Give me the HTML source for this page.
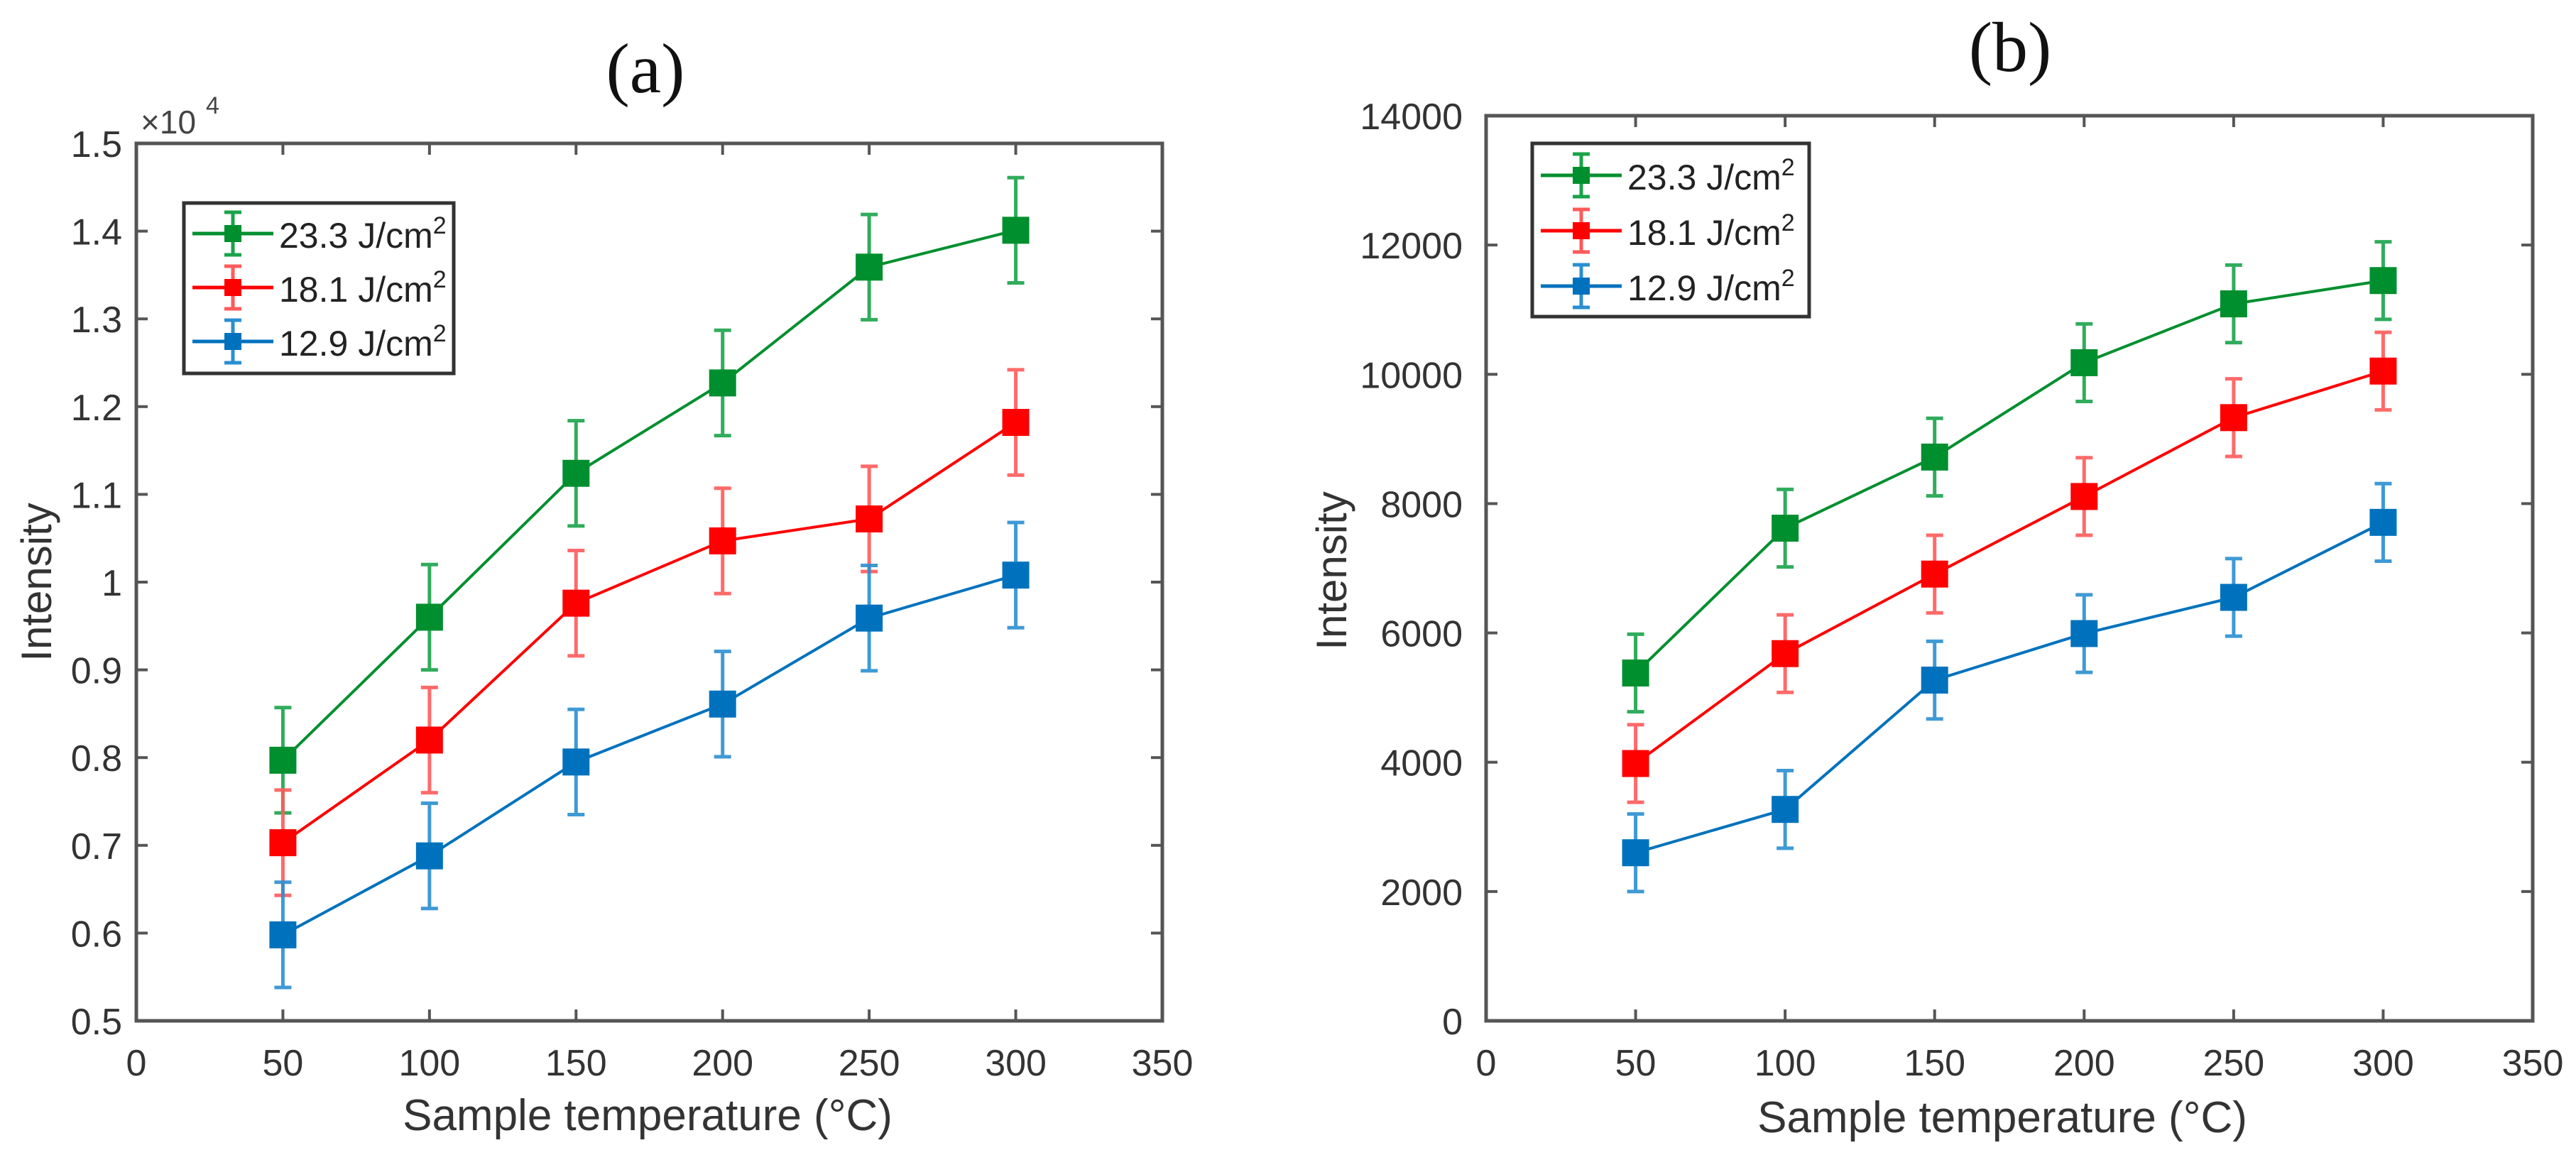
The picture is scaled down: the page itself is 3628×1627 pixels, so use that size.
<!DOCTYPE html>
<html><head><meta charset="utf-8"><style>
html,body{margin:0;padding:0;background:#fff;}
svg{display:block;font-family:"Liberation Sans",sans-serif;}
</style></head><body>
<svg id="fig" width="3628" height="1627" viewBox="0 0 3628 1627" xmlns="http://www.w3.org/2000/svg">
<rect width="3628" height="1627" fill="#fff"/>
</svg>
<script>
const xCats = [50, 100, 150, 200, 250, 300];
const xTicks = [0, 50, 100, 150, 200, 250, 300, 350];
const seriesLabels = ["23.3 J/cm", "18.1 J/cm", "12.9 J/cm"];
const a_green = [0.797, 0.960, 1.124, 1.227, 1.359, 1.401];
const a_red = [0.703, 0.820, 0.976, 1.047, 1.072, 1.182];
const a_blue = [0.598, 0.688, 0.795, 0.861, 0.959, 1.008];
const a_err = [0.06, 0.06, 0.06, 0.06, 0.06, 0.06];
const a_yTicks = [0.5, 0.6, 0.7, 0.8, 0.9, 1, 1.1, 1.2, 1.3, 1.4, 1.5];
const a_yTickLabels = ["0.5","0.6","0.7","0.8","0.9","1","1.1","1.2","1.3","1.4","1.5"];
const b_green = [5380, 7620, 8720, 10180, 11090, 11450];
const b_red = [3980, 5680, 6910, 8110, 9330, 10050];
const b_blue = [2600, 3270, 5270, 5990, 6550, 7710];
const b_err = [600, 600, 600, 600, 600, 600];
const b_yTicks = [0, 2000, 4000, 6000, 8000, 10000, 12000, 14000];
const b_yTickLabels = ["0","2000","4000","6000","8000","10000","12000","14000"];

const NS = "http://www.w3.org/2000/svg";
const svg = document.getElementById('fig');
function mk(tag, attrs, parent, text){
  const e = document.createElementNS(NS, tag);
  for (const k in attrs) e.setAttribute(k, attrs[k]);
  if (text !== undefined) e.textContent = text;
  (parent||svg).appendChild(e);
  return e;
}
const colors = ["#008f2e", "#ff0000", "#0072bd"];
const errColors = ["#1aa34a", "#ff5a5a", "#2a8fd0"];

function panel(cfg){
  const g = mk('g', {});
  
  
  const L=cfg.L, R=cfg.R, T=cfg.T, B=cfg.B;
  const xs = v => L + (v - 0) / 350 * (R - L);
  const ys = v => B - (v - cfg.ymin) / (cfg.ymax - cfg.ymin) * (B - T);
  const t = mk('text', {x: cfg.titleX, y: cfg.titleY, 'font-family': '"Liberation Serif",serif', 'font-size': 100, 'text-anchor': 'middle', fill: '#111'}, g, cfg.title);
  
  
  xTicks.forEach(v => {
    const x = xs(v);
    mk('line', {x1:x, y1:B, x2:x, y2:B-16, stroke:'#555', 'stroke-width':4}, g);
    mk('line', {x1:x, y1:T, x2:x, y2:T+16, stroke:'#555', 'stroke-width':4}, g);
    const tl = mk('text', {x:x, y:1515, 'font-size':52, 'text-anchor':'middle', fill:'#333'}, g, String(v));
    
    
  });
  cfg.yTicks.forEach((v,i) => {
    const y = ys(v);
    mk('line', {x1:L, y1:y, x2:L+16, y2:y, stroke:'#555', 'stroke-width':4}, g);
    mk('line', {x1:R, y1:y, x2:R-16, y2:y, stroke:'#555', 'stroke-width':4}, g);
    const tl = mk('text', {x:cfg.yLabRight, y:y+19, 'font-size':52, 'text-anchor':'end', fill:'#333'}, g, cfg.yTickLabels[i]);
    
    
  });
  const box = mk('rect', {x:L, y:T, width:R-L, height:B-T, fill:'none', stroke:'#555', 'stroke-width':5}, g);
  
  
  const xt = mk('text', {x:cfg.xLabX, y:cfg.xLabY, 'font-size':62, 'text-anchor':'middle', fill:'#333'}, g, 'Sample temperature (°C)');
  
  
  const yt = mk('text', {x:0, y:0, 'font-size':60, 'text-anchor':'middle', fill:'#333', transform:`translate(${cfg.yLabX},${cfg.yLabY}) rotate(-90)`}, g, 'Intensity');
  
  
  if (cfg.exp) {
    const ex = mk('text', {x:198, y:188, 'font-size':46, fill:'#444'}, g, '×10');
    
    
    mk('text', {x:290, y:160, 'font-size':34, fill:'#444'}, g, '4');
  }
  cfg.series.forEach((vals, si) => {
    const sg = mk('g', {}, g);
    
    
    const pts = vals.map((v,i) => xs(xCats[i]) + ',' + ys(v)).join(' ');
    mk('polyline', {points:pts, fill:'none', stroke:colors[si], 'stroke-width':4}, sg);
    vals.forEach((v,i) => {
      const x = xs(xCats[i]), e = cfg.err[i];
      const y1 = ys(v + e), y2 = ys(v - e);
      const eb = mk('path', {d:`M${x},${y1}V${y2}M${x-12},${y1}H${x+12}M${x-12},${y2}H${x+12}`, stroke:errColors[si], 'stroke-width':5, fill:'none', opacity:0.9}, sg);
      
      
      const m = mk('rect', {x:x-19, y:ys(v)-19, width:38, height:38, fill:colors[si]}, sg);
      
      
    });
  });
  const lg = mk('g', {}, g);
  
  
  const lb = cfg.leg;
  mk('rect', {x:lb.x, y:lb.y, width:lb.w, height:lb.h, fill:'#fff', stroke:'#333', 'stroke-width':5}, lg);
  seriesLabels.forEach((lab, si) => {
    const ry = lb.rows[si];
    const le = mk('g', {}, lg);
    
    
    mk('line', {x1:lb.x+12, y1:ry, x2:lb.x+126, y2:ry, stroke:colors[si], 'stroke-width':5}, le);
    const mx = lb.x+69;
    mk('path', {d:`M${mx},${ry-30}V${ry+30}M${mx-12},${ry-30}H${mx+12}M${mx-12},${ry+30}H${mx+12}`, stroke:errColors[si], 'stroke-width':5}, le);
    mk('rect', {x:mx-12, y:ry-12, width:24, height:24, fill:colors[si]}, le);
    const tx = mk('text', {x:lb.x+134, y:ry+20, 'font-size':50, fill:'#222'}, le, lab);
    mk('tspan', {dy:-20, 'font-size':34}, tx, '2');
  });
}

panel({name:'panel-a', title:'(a)', titleX:909, titleY:130, L:192, R:1637, T:202, B:1438, ymin:0.5, ymax:1.5,
  yTicks:a_yTicks, yTickLabels:a_yTickLabels, yLabRight:172, xLabX:912, xLabY:1592, yLabX:72, yLabY:820, exp:true,
  series:[a_green, a_red, a_blue], err:a_err,
  leg:{x:259, y:286, w:380, h:240, rows:[329, 405, 481]}});
panel({name:'panel-b', title:'(b)', titleX:2831, titleY:100, L:2093, R:3567, T:163, B:1438, ymin:0, ymax:14000,
  yTicks:b_yTicks, yTickLabels:b_yTickLabels, yLabRight:2060, xLabX:2820, xLabY:1595, yLabX:1896, yLabY:804, exp:false,
  series:[b_green, b_red, b_blue], err:b_err,
  leg:{x:2158, y:202, w:390, h:244, rows:[247, 325, 403]}});
</script>
</body></html>
